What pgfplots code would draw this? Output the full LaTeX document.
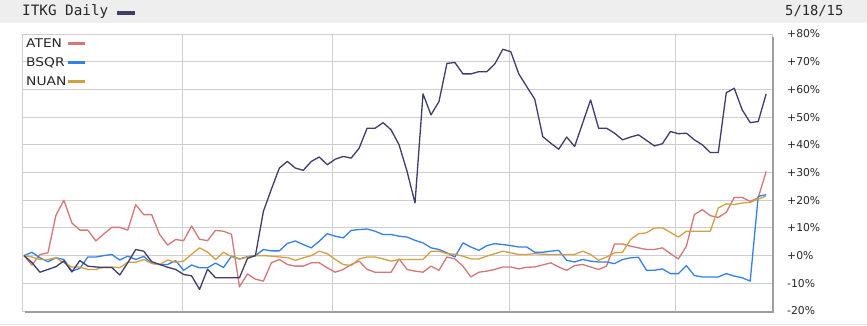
\documentclass[border=0pt]{standalone}
\usepackage{fontspec}
\setmainfont{DejaVu Sans}
\newfontfamily\monof{DejaVu Sans Mono}
\newfontfamily\legf[FakeStretch=1.15]{DejaVu Sans}
\usepackage{pgfplots}
\usepackage{pgfplotstable}
\pgfplotsset{compat=1.18}
\definecolor{itkg}{RGB}{62,62,108}
\definecolor{aten}{RGB}{214,118,120}
\definecolor{bsqr}{RGB}{50,128,232}
\definecolor{nuan}{RGB}{212,160,66}
\definecolor{gridc}{RGB}{206,206,206}
\definecolor{hdr}{RGB}{238,238,238}
\definecolor{txt}{RGB}{40,40,40}

\pgfplotstableread{
i itkg aten bsqr nuan
0 0 0 0 0
1 -2.5 -3.4 1.2 -0.5
2 -6 0.4 -0.8 -1.4
3 -5 1 -2.2 -1.4
4 -4 14.5 -0.8 -0.8
5 -1.9 20 -1.4 -2.6
6 -5.9 11.8 -5.6 -4.1
7 -1.8 9.2 -4.6 -4.1
8 -3.8 9.2 -0.5 -5
9 -4.1 5.3 -0.5 -5
10 -4.3 7.8 0 -4.1
11 -4.3 10.2 0.4 -4.1
12 -7 10.2 -1.6 -4.4
13 -2.6 9.2 -0.2 -2.4
14 2.2 18.4 -1.4 -2.4
15 1.6 14.8 -0.3 -1.4
16 -2.2 14.8 -2.8 -2.8
17 -3.2 7.6 -3.2 -3.2
18 -4.2 3.8 -3.2 -1.6
19 -5 5.8 -1.8 -2.4
20 -6.8 5.4 -5.3 -2
21 -7.3 10.7 -3.4 0.5
22 -12.2 5.9 -4.4 2.8
23 -4.9 5.4 -4.4 1.3
24 -8 9.1 -2.7 -1.4
25 -8 8.8 -4.3 1.2
26 -8 7.7 -0.2 -0.4
27 -8 -11.3 -1.2 -1.3
28 -1 -6.6 -0.4 -0.5
29 0 -8.5 0 0
30 16 -9.2 2.2 0
31 24 -2.6 1.7 -0.2
32 31.6 -1.4 1.7 -0.5
33 34 -3.2 4.4 -0.7
34 31.6 -3.8 5.3 -1.7
35 30.8 -3.8 4 -0.8
36 34 -2.6 2.8 0
37 35.6 -2.6 5.2 1.6
38 32.8 -4.4 7.9 0.7
39 34.8 -6 7 -1.4
40 35.8 -5 6.4 -3.2
41 35.2 -3.2 9.1 -3.6
42 38.8 -2 9.4 -1.2
43 46 -5 9.6 -0.5
44 46 -6 8.8 -0.5
45 48 -6 7.6 -1.2
46 45.4 -6 7.6 -2
47 40 -1.2 7 -1.4
48 30.4 -5 6.7 -1.4
49 19 -5.6 5.5 -1.4
50 58.4 -6 4.6 -1.4
51 50.8 -3.8 2.8 1.6
52 55.6 -5.3 2.2 1.6
53 69.4 -0.5 1 0.7
54 69.7 -1.2 -0.5 0.5
55 65.6 -3.8 4.6 -0.2
56 65.6 -7.7 3.1 -1.2
57 66.4 -6 1.9 -1.2
58 66.4 -5.6 3.6 -0.2
59 69.2 -5 4.3 0.7
60 74.5 -4.1 4 1.6
61 73.6 -4.1 3.6 1
62 65.6 -4.8 3.1 0.4
63 61 -4.2 3.1 0.4
64 56.5 -4.1 1.2 0.7
65 43 -3.4 1.2 0.5
66 40.6 -2.6 1.6 0.4
67 38.4 -4.1 1.9 0.4
68 42.8 -5.3 -1.7 0.4
69 39.4 -3.6 -2.3 0.4
70 47.8 -3.2 -1.4 1.6
71 56.2 -4.1 -2 0.4
72 46 -5 -2.3 -1.7
73 46 -3.8 -2.3 -0.5
74 44.2 4.2 -2.9 1
75 41.8 4.2 -1.4 1.2
76 42.8 3.4 -0.8 5.8
77 43.6 2.8 -0.6 7.9
78 41.6 2.2 -5.3 8.2
79 39.6 2.2 -5.3 10
80 40.4 2.8 -4.8 10
81 44.8 0.7 -6.5 8.4
82 44 -1.2 -6.5 6.7
83 44.2 3.4 -3.6 8.8
84 41.8 14.8 -7.2 8.8
85 40 16.6 -7.7 8.8
86 37.2 14.4 -7.7 8.8
87 37.2 13.8 -7.7 17.2
88 58.8 15.6 -6.5 18.7
89 60.4 21 -7.4 18.4
90 52.6 21 -8 19
91 48 19.6 -9.2 19.2
92 48.4 20.8 21.4 20.4
93 58.4 30.4 22 21.5
}\data

\begin{document}
\begin{tikzpicture}[x=1pt,y=1pt]
\useasboundingbox (0,0) rectangle (867,325);
\fill[white] (0,0) rectangle (867,325);
\fill[hdr] (0,302) rectangle (867,325);
\draw[gridc!60, line width=0.8pt] (0,1) -- (867,1);
\node[anchor=west, inner sep=0pt, text=txt, font=\monof\fontsize{14.3}{15}\selectfont] at (22,313.5) {ITKG Daily};
\draw[itkg, line width=3.5pt] (117,312) -- (135,312);
\node[anchor=west, inner sep=0pt, text=txt, font=\monof\fontsize{13.8}{14}\selectfont] at (785,313.5) {5/18/15};
\begin{axis}[
  at={(22pt,14pt)}, anchor=south west,
  scale only axis, width=750pt, height=277pt,
  xmin=-0.25, xmax=93.73, ymin=-20, ymax=80,
  ytick={-20,-10,0,10,20,30,40,50,60,70,80},
  yticklabels={-20\%,-10\%,+0\%,+10\%,+20\%,+30\%,+40\%,+50\%,+60\%,+70\%,+80\%},
  yticklabel pos=right,
  xtick={19.8,38.7,60.8,81.7}, xticklabels={},
  grid=major,
  major grid style={gridc, line width=1pt},
  axis line style={gridc, line width=1pt},
  major tick length=0pt,
  yticklabel style={anchor=west, inner sep=0pt, xshift=15pt, text=txt, font=\fontsize{10.8}{11}\selectfont},
  legend plot pos=right,
  legend cell align=left,
  legend style={at={(0,1)}, anchor=north west, draw=none, fill=none,
    inner xsep=4pt, inner ysep=3.5pt, row sep=7pt,
    font=\legf\fontsize{12}{12}\selectfont, text=txt,
    nodes={inner sep=0pt, text height=9.5pt, text depth=2.5pt},
    /tikz/every even column/.append style={column sep=5pt}},
  legend image code/.code={\draw[#1, line width=2.8pt] (4pt,0.3pt) -- (21pt,0.3pt);},
  every axis plot/.append style={line width=1.3pt, line join=round},
]
\addplot[aten, no marks] table[x=i, y=aten] {\data};
\addlegendentry{ATEN}
\addplot[bsqr, no marks] table[x=i, y=bsqr] {\data};
\addlegendentry{BSQR}
\addplot[nuan, no marks] table[x=i, y=nuan] {\data};
\addlegendentry{NUAN}
\addplot[itkg, no marks, forget plot] table[x=i, y=itkg] {\data};
\end{axis}
\draw[gray!75, line width=1.6pt] ([shift={(1.2pt,-3pt)}]current axis.north east) -- ([shift={(1.2pt,-1.2pt)}]current axis.south east) -- ([shift={(3pt,-1.2pt)}]current axis.south west);
\end{tikzpicture}
\end{document}
